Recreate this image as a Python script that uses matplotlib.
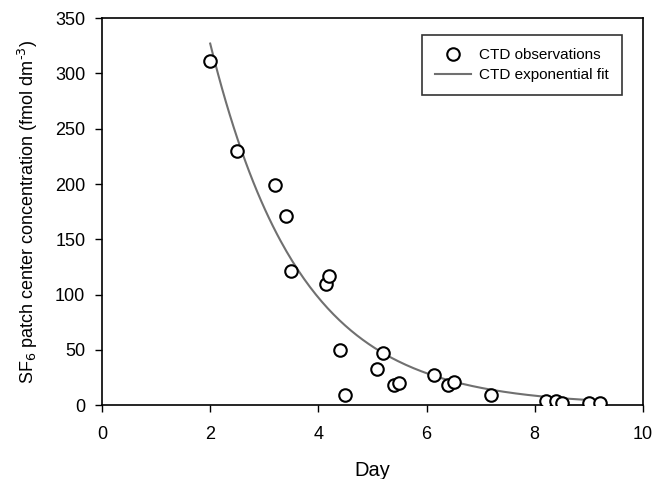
import numpy as np
import matplotlib.pyplot as plt

plt.rcParams['font.family'] = ['Liberation Sans', 'DejaVu Sans']

# CTD observations of SF6 at the patch center
day = [2.0, 2.5, 3.2, 3.4, 3.5, 4.14, 4.2, 4.4, 4.5, 5.08, 5.2, 5.4, 5.5,
       6.14, 6.4, 6.5, 7.2, 8.2, 8.4, 8.5, 9.0, 9.2]
sf6 = [311, 230, 199, 171, 121, 110, 117, 50, 9, 33, 47, 18, 20,
       27, 18, 21, 9, 4, 4, 2, 2, 2]

# exponential fit parameters: c = A * exp(-k * t)
fit_A = 1099.0
fit_k = 0.606
fit_range = (2.0, 9.2)

fig = plt.figure(figsize=(6.54, 4.79), dpi=100)
ax = fig.add_axes([0.156, 0.154, 0.827, 0.808])

t = np.linspace(fit_range[0], fit_range[1], 200)
ax.plot(day, sf6, linestyle='none', marker='o', markersize=9, markerfacecolor='white',
        markeredgecolor='black', markeredgewidth=1.5, label='CTD observations', zorder=3)
ax.plot(t, fit_A * np.exp(-fit_k * t), color='#707070', linewidth=1.5,
        label='CTD exponential fit', zorder=2)

ax.set_xlim(0, 10)
ax.set_ylim(0, 350)
ax.set_xticks(np.arange(0, 11, 2))
ax.set_yticks(np.arange(0, 351, 50))
ax.tick_params(direction='out', labelsize=13, length=5, width=1)
ax.tick_params(axis='x', pad=10)
ax.tick_params(axis='y', pad=7)
for s in ax.spines.values():
    s.set_linewidth(1.2)

ax.set_xlabel('Day', fontsize=14.5, labelpad=13)
ax.set_ylabel('SF$_6$ patch center concentration (fmol dm$^{\\text{-}3}$)',
              fontsize=13, labelpad=11)

leg = ax.legend(loc='upper right', fontsize=11, frameon=True, fancybox=False,
                edgecolor='black', borderpad=0.85, labelspacing=0.4,
                handlelength=2.4, handletextpad=0.5, borderaxespad=0,
                bbox_to_anchor=(0.961, 0.956))
leg.get_frame().set_linewidth(1.2)

fig.savefig('out.png', dpi=100)
